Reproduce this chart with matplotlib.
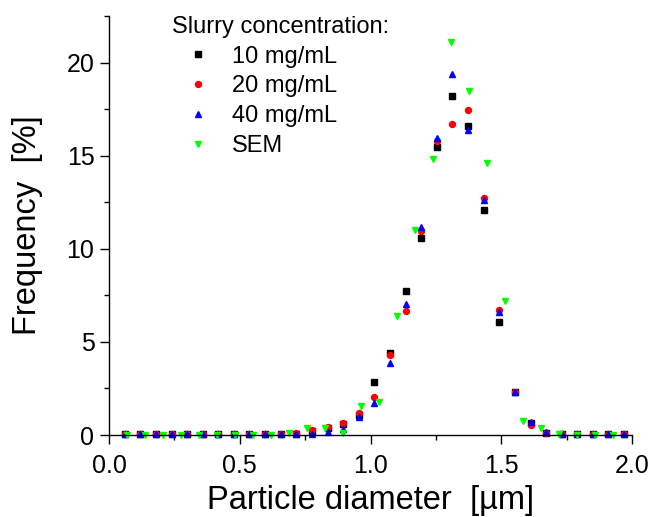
"""
Particle size distribution: DLS at three slurry concentrations vs SEM
"""
import matplotlib.pyplot as plt
from matplotlib.ticker import MultipleLocator

plt.rcParams['font.family'] = ['Liberation Sans', 'DejaVu Sans']

# DLS bin centres [um]
x_dls = [0.060, 0.119, 0.179, 0.239, 0.299, 0.358, 0.418, 0.478, 0.537, 0.597,
         0.657, 0.716, 0.776, 0.836, 0.896, 0.955, 1.015, 1.075, 1.134, 1.194,
         1.254, 1.313, 1.373, 1.433, 1.493, 1.552, 1.612, 1.672, 1.731, 1.791,
         1.851, 1.910, 1.970]

freq_10 = [0.03, 0.03, 0.03, 0.03, 0.03, 0.03, 0.03, 0.03, 0.03, 0.03,
           0.03, 0.08, 0.20, 0.40, 0.60, 1.05, 2.87, 4.43, 7.76, 10.57,
           15.45, 18.19, 16.58, 12.06, 6.09, 2.33, 0.62, 0.12, 0.03, 0.03,
           0.03, 0.03, 0.03]
freq_20 = [0.05, 0.05, 0.05, 0.05, 0.05, 0.05, 0.05, 0.05, 0.05, 0.05,
           0.05, 0.12, 0.27, 0.45, 0.66, 1.17, 2.03, 4.32, 6.68, 10.97,
           15.77, 16.72, 17.44, 12.72, 6.72, 2.33, 0.54, 0.10, 0.05, 0.05,
           0.05, 0.05, 0.05]
freq_40 = [0.05, 0.05, 0.05, 0.05, 0.05, 0.05, 0.05, 0.05, 0.05, 0.05,
           0.05, 0.05, 0.08, 0.18, 0.30, 0.95, 1.74, 3.85, 7.04, 11.17,
           15.95, 19.40, 16.40, 12.63, 6.63, 2.33, 0.68, 0.15, 0.08, 0.05,
           0.05, 0.05, 0.05]

# SEM histogram bins [um]
x_sem = [0.069, 0.138, 0.206, 0.275, 0.344, 0.413, 0.482, 0.550, 0.619, 0.688,
         0.757, 0.826, 0.895, 0.963, 1.032, 1.101, 1.170, 1.239, 1.307, 1.376,
         1.445, 1.514, 1.583, 1.651, 1.720, 1.789, 1.858, 1.927]
freq_sem = [0.0, 0.0, 0.0, 0.0, 0.0, 0.0, 0.0, 0.0, 0.0, 0.10,
            0.35, 0.35, 0.12, 1.55, 1.76, 6.40, 11.00, 14.84, 21.10, 18.45,
            14.60, 7.17, 0.74, 0.37, 0.05, 0.0, 0.0, 0.0]

fig = plt.figure(figsize=(6.5, 5.17), dpi=100)
ax = fig.add_axes([0.1677, 0.1586, 0.8046, 0.8104])

ax.plot(x_dls, freq_10, 's', color='black', ms=4, clip_on=False, label='10 mg/mL')
ax.plot(x_dls, freq_20, 'o', color='#ff0000', ms=4.3, clip_on=False, label='20 mg/mL')
ax.plot(x_dls, freq_40, '^', color='#0000ff', ms=5, clip_on=False, label='40 mg/mL')
ax.plot(x_sem, freq_sem, 'v', color='#00ff00', ms=5, clip_on=False, label='SEM')

ax.set_xlim(0, 2.0)
ax.set_ylim(0, 22.5)
ax.xaxis.set_major_locator(MultipleLocator(0.5))
ax.xaxis.set_minor_locator(MultipleLocator(0.25))
ax.yaxis.set_major_locator(MultipleLocator(5))
ax.yaxis.set_minor_locator(MultipleLocator(2.5))
ax.set_xticks([0.0, 0.5, 1.0, 1.5, 2.0])
ax.set_xticklabels(['0.0', '0.5', '1.0', '1.5', '2.0'])

for side in ['top', 'right']:
    ax.spines[side].set_visible(False)
for side in ['left', 'bottom']:
    ax.spines[side].set_linewidth(1.0)

ax.tick_params(which='major', direction='out', length=6.5, width=1.0, labelsize=18)
ax.tick_params(axis='x', which='major', pad=7)
ax.tick_params(axis='y', which='major', pad=4)
ax.tick_params(which='minor', direction='out', length=3.5, width=1.0)

ax.set_xlabel('Particle diameter  [µm]', fontsize=23.5, labelpad=5)
ax.set_ylabel('Frequency  [%]', fontsize=23.5, labelpad=17)

leg = ax.legend(title='Slurry concentration:', loc='upper left',
                bbox_to_anchor=(0.089, 1.04), frameon=False, fontsize=17,
                title_fontsize=17, handlelength=2.2, handletextpad=0.34,
                labelspacing=0.33, borderpad=0.2, alignment='left')

plt.savefig('out.png', dpi=100)
